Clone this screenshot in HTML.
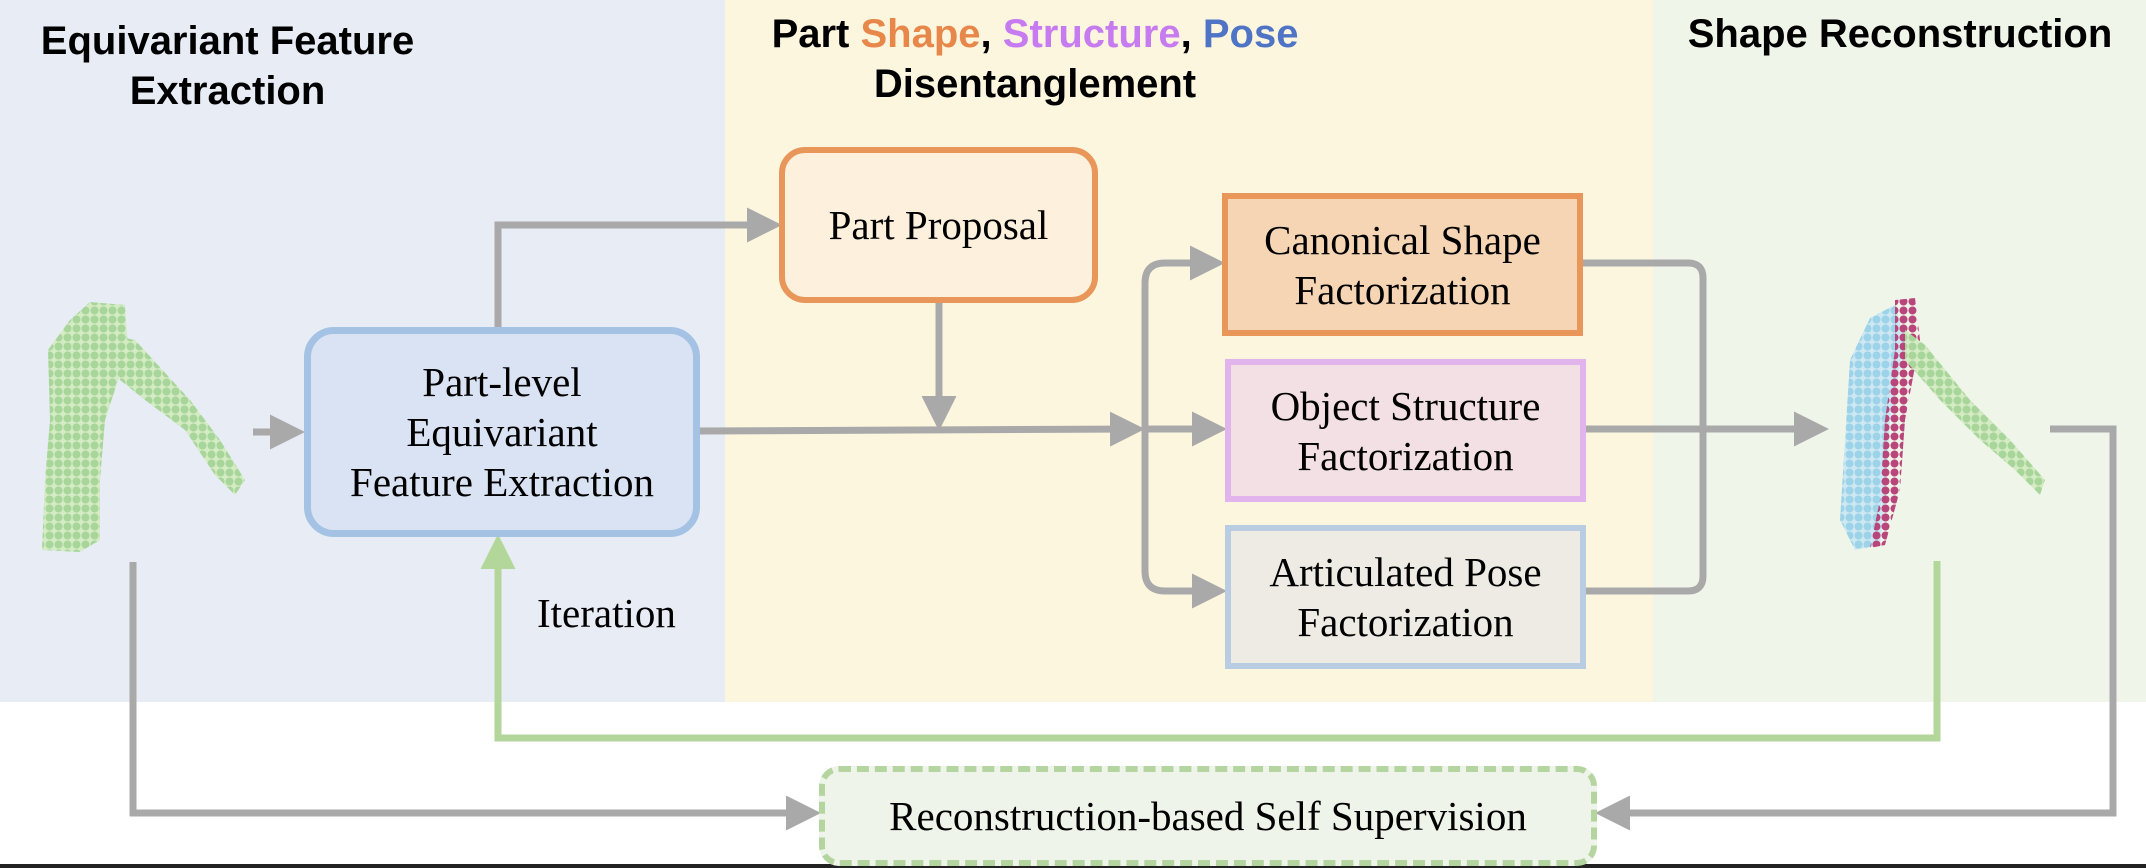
<!DOCTYPE html>
<html><head><meta charset="utf-8"><style>
body{margin:0;width:2146px;height:868px;overflow:hidden;background:#fff;position:relative;font-family:"Liberation Serif",serif}
.t{position:absolute;font-family:"Liberation Sans",sans-serif;font-weight:bold;font-size:40px;color:#000;text-align:center;line-height:50px;white-space:nowrap}
.box{position:absolute;box-sizing:border-box;display:flex;align-items:center;justify-content:center;text-align:center;font-size:41px;line-height:50px;color:#000;white-space:nowrap}
</style></head><body>
<div style="position:absolute;left:0;top:0;width:725px;height:702px;background:#E8ECF5"></div>
<div style="position:absolute;left:725px;top:0;width:928px;height:702px;background:#FDF6DF"></div>
<div style="position:absolute;left:1653px;top:0;width:493px;height:702px;background:#F0F5EA"></div>
<div style="position:absolute;left:0;top:864px;width:2146px;height:4px;background:#222"></div>

<div class="t" style="left:0;width:455px;top:16px">Equivariant Feature<br>Extraction</div>
<div class="t" style="left:730px;width:610px;top:9px">Part <span style="color:#E8874A">Shape</span>, <span style="color:#C77BF0">Structure</span>, <span style="color:#4F74C5">Pose</span><br>Disentanglement</div>
<div class="t" style="left:1655px;width:490px;top:9px">Shape Reconstruction</div>

<svg style="position:absolute;left:0;top:0" width="2146" height="868">
<defs>
<marker id="ag" markerWidth="5" markerHeight="5" refX="4" refY="2.5" orient="auto" markerUnits="strokeWidth"><path d="M0,0 L5,2.5 L0,5 z" fill="#A9A9A9"/></marker>
<marker id="agr" markerWidth="5" markerHeight="5" refX="4" refY="2.5" orient="auto" markerUnits="strokeWidth"><path d="M0,0 L5,2.5 L0,5 z" fill="#B3D69A"/></marker>
<pattern id="pg" width="9" height="9" patternUnits="userSpaceOnUse"><rect width="9" height="9" fill="#D4EBC4"/><circle cx="4.5" cy="4.5" r="4" fill="#A8D69A"/></pattern>
<pattern id="pb" width="9" height="9" patternUnits="userSpaceOnUse"><rect width="9" height="9" fill="#CDE8F2"/><circle cx="4.5" cy="4.5" r="4" fill="#9DD3E8"/></pattern>
<pattern id="pp" width="9" height="9" patternUnits="userSpaceOnUse"><circle cx="4.5" cy="4.5" r="4" fill="#B8467A"/></pattern>
</defs>
<g fill="none" stroke="#A9A9A9" stroke-width="7">
<path d="M253,432 H298" marker-end="url(#ag)"/>
<path d="M498,327 V225 H775" marker-end="url(#ag)"/>
<path d="M939,303 V424" marker-end="url(#ag)"/>
<path d="M700,431 L1138,429" marker-end="url(#ag)"/>
<path d="M1145,429 V283 Q1145,263 1165,263 H1218" marker-end="url(#ag)"/>
<path d="M1145,429 V571 Q1145,591 1165,591 H1220" marker-end="url(#ag)"/>
<path d="M1145,429 H1220" marker-end="url(#ag)"/>
<path d="M1583,263 H1688 Q1703,263 1703,278 V576 Q1703,591 1688,591 H1586"/>
<path d="M1586,429 H1822" marker-end="url(#ag)"/>
<path d="M2050,429 H2113 V813 H1602" marker-end="url(#ag)"/>
<path d="M133,562 V813 H814" marker-end="url(#ag)"/>
</g>
<path d="M1937,561 V738 H498 V541" fill="none" stroke="#B3D69A" stroke-width="7" marker-end="url(#agr)"/>
<g fill="url(#pg)">
<polygon points="90,302 125,305 128,350 105,420 100,480 100,540 80,552 42,550 45,480 50,420 48,350 70,320"/>
<polygon points="110,335 135,340 190,400 220,440 245,480 235,495 215,475 185,430 145,400 120,380"/>
</g>
<g>
<polygon fill="url(#pb)" points="1870,318 1895,305 1905,340 1890,420 1885,500 1880,545 1855,550 1840,520 1845,440 1850,360"/>
<polygon fill="url(#pp)" points="1895,300 1915,298 1920,340 1905,420 1900,490 1885,545 1870,548 1880,500 1885,420 1895,350"/>
<polygon fill="url(#pg)" points="1905,330 1925,345 1970,400 2010,440 2045,480 2040,495 2015,470 1980,440 1940,400 1905,360"/>
</g>
</svg>

<div class="box" style="left:779px;top:147px;width:319px;height:156px;border:6px solid #E8965A;border-radius:26px;background:#FDF0DC">Part Proposal</div>
<div class="box" style="left:304px;top:327px;width:396px;height:210px;border:7px solid #A4C2E4;border-radius:30px;background:#DAE3F3">Part-level<br>Equivariant<br>Feature Extraction</div>
<div class="box" style="left:1222px;top:193px;width:361px;height:143px;border:6px solid #E8965A;background:#F5D5B4">Canonical Shape<br>Factorization</div>
<div class="box" style="left:1225px;top:359px;width:361px;height:143px;border:6px solid #E2B4EE;background:#F3E0E5">Object Structure<br>Factorization</div>
<div class="box" style="left:1225px;top:525px;width:361px;height:144px;border:6px solid #B8CDE2;background:#EDEBE3">Articulated Pose<br>Factorization</div>
<div class="box" style="left:819px;top:766px;width:778px;height:100px;border:6px dashed #B5D5A0;border-radius:20px;background:#EFF4EA">Reconstruction-based Self Supervision</div>
<div style="position:absolute;left:537px;top:588px;font-size:41px;line-height:50px">Iteration</div>
</body></html>
